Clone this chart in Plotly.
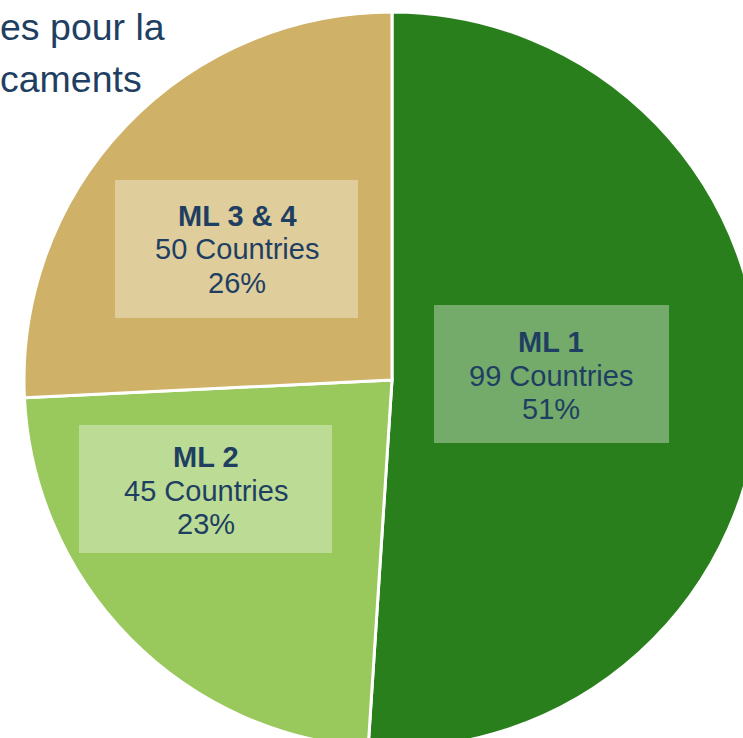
import plotly.graph_objects as go

# ---- data ----
labels = ["ML 1", "ML 2", "ML 3 & 4"]
countries = [99, 45, 50]
colors = ["#2A7F1D", "#99C95D", "#CFB268"]
title_lines = ["es pour la", "caments"]

total = sum(countries)
pcts = [round(100 * v / total) for v in countries]

# ---- layout geometry (pixels) ----
W, H = 760, 748
L, T = 24, 12
PW, PH = W - L, H - T


def px(x):
    return (x - L) / PW


def py(y):
    return 1 - (y - T) / PH


fig = go.Figure(
    go.Pie(
        labels=labels,
        values=countries,
        sort=False,
        direction="clockwise",
        rotation=0,
        marker=dict(colors=colors, line=dict(color="white", width=3)),
        textinfo="none",
        hoverinfo="label+value+percent",
        showlegend=False,
    )
)

# label boxes (x0, x1, y0, y1) and line centres
boxes = [(434, 669, 305, 443), (79, 332, 425, 553), (115, 358, 180, 318)]
centers = [(551, 342), (206, 457), (237, 216)]
line_gap = 33.5
text_color = "#1F3F62"
font_fam = "Liberation Sans, Arial, sans-serif"

shapes = []
annotations = []
for i, (b, c) in enumerate(zip(boxes, centers)):
    shapes.append(dict(type="rect", xref="paper", yref="paper",
                       x0=px(b[0]), x1=px(b[1]), y0=py(b[3]), y1=py(b[2]),
                       fillcolor="rgba(255,255,255,0.35)", line=dict(width=0),
                       layer="above"))
    lines = [f"<b>{labels[i]}</b>", f"{countries[i]} Countries", f"{pcts[i]}%"]
    for k, t in enumerate(lines):
        annotations.append(dict(x=px(c[0]), y=py(c[1] + k * line_gap),
                                xref="paper", yref="paper", text=t,
                                showarrow=False, xanchor="center", yanchor="middle",
                                font=dict(size=29, color=text_color, family=font_fam)))

for k, t in enumerate(title_lines):
    annotations.append(dict(x=px(-2), y=py(27 + k * 52), xref="paper", yref="paper",
                            text=t, showarrow=False, xanchor="left", yanchor="middle",
                            font=dict(size=37.5, color=text_color, family=font_fam)))

fig.update_layout(
    width=W, height=H,
    margin=dict(l=L, t=T, r=0, b=0),
    paper_bgcolor="white", plot_bgcolor="white",
    shapes=shapes, annotations=annotations,
)

fig.write_html(
    "out.html",
    post_script="document.body.style.margin='0';document.body.style.overflow='hidden';document.documentElement.style.overflow='hidden';",
    config={"displayModeBar": False},
)
